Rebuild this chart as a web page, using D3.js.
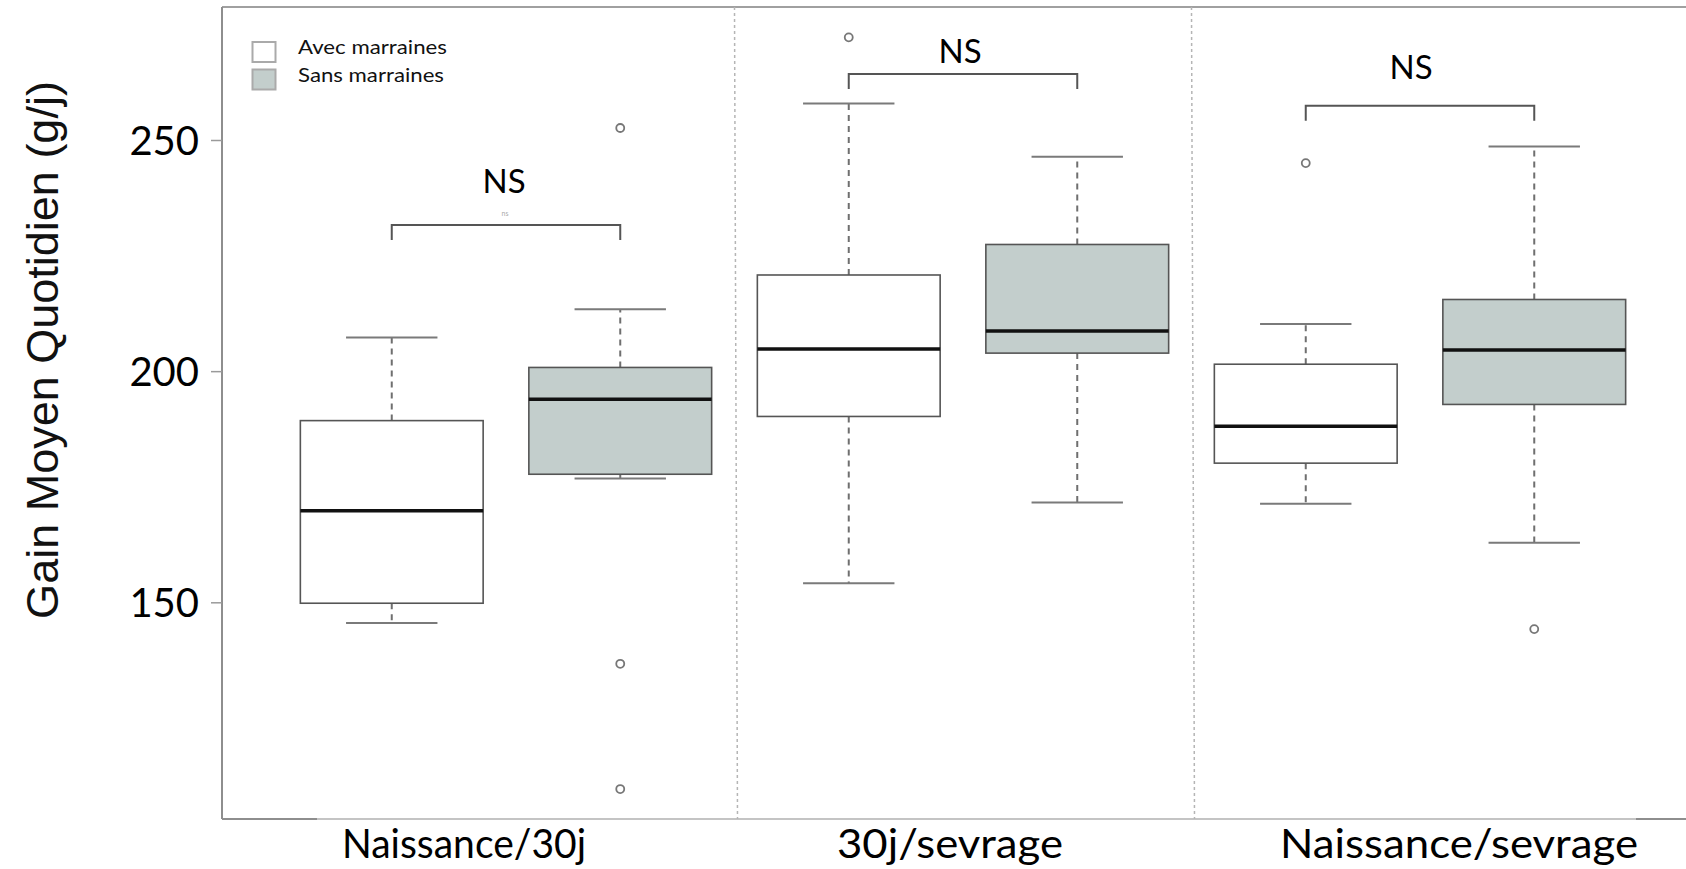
<!DOCTYPE html>
<html>
<head>
<meta charset="utf-8">
<script src="https://cdn.jsdelivr.net/npm/d3@7"></script>
<style>
  html, body { margin: 0; padding: 0; background: #fff; }
  svg { display: block; }
</style>
</head>
<body>
<svg id="chart" width="1686" height="869"></svg>
<script>
// ---------------- data ----------------
const categories = ["Naissance/30j", "30j/sevrage", "Naissance/sevrage"];
const seriesNames = ["Avec marraines", "Sans marraines"];
// [lower whisker, Q1, median, Q3, upper whisker] per category
const avecStats = [
  [145.5, 149.8, 169.8, 189.3, 207.3],
  [154.1, 190.2, 204.8, 220.8, 257.9],
  [171.3, 180.1, 188.1, 201.5, 210.2]
];
const sansStats = [
  [176.8, 177.7, 193.9, 200.8, 213.4],
  [171.6, 203.9, 208.7, 227.4, 246.4],
  [162.9, 192.8, 204.6, 215.5, 248.6]
];
const avecOutliers = [[], [272.2], [245.0]];
const sansOutliers = [[252.6, 136.7, 109.6], [], [144.2]];
const bracketValues = [231.6, 264.3, 257.4];
const signifLabels = ["NS", "NS", "NS"];
const signifValues = [238.5, 266.6, 263.2];
const yTicks = [150, 200, 250];
const yTitle = "Gain Moyen Quotidien (g/j)";

// ---------------- layout ----------------
const plotLeft = 222, plotTop = 7, plotBottom = 819, plotRight = 1686;
const svg = d3.select("#chart");

const fillColors = ["#ffffff", "#c3cecc"];
const labelShift = [-42, -13, 39];
const labelWidths = [244, 226, 358];
const legendWidths = [149, 146];
const signifShift = [-2, -3, -9];

const x = d3.scaleBand().domain(categories).range([277.5, 1648.5]).padding(0);
const xs = d3.scaleBand().domain(seriesNames).range([0, x.bandwidth()]).padding(0);
const y = d3.scaleLinear().domain([150, 250]).range([602.3, 140]);

const boxW = xs.bandwidth() * 0.8;
const capW = xs.bandwidth() * 0.4;

// frame
const frame = svg.append("g");
frame.append("line").attr("x1", plotLeft).attr("x2", plotRight).attr("y1", plotTop).attr("y2", plotTop)
  .attr("stroke", "#a0a0a0").attr("stroke-width", 2);
frame.append("line").attr("x1", plotLeft).attr("x2", plotRight).attr("y1", plotBottom).attr("y2", plotBottom)
  .attr("stroke", "#c4c4c4").attr("stroke-width", 2);
frame.append("line").attr("x1", plotLeft).attr("x2", 317).attr("y1", plotBottom).attr("y2", plotBottom)
  .attr("stroke", "#8e8e8e").attr("stroke-width", 2);
frame.append("line").attr("x1", 1636).attr("x2", plotRight).attr("y1", plotBottom).attr("y2", plotBottom)
  .attr("stroke", "#8e8e8e").attr("stroke-width", 2);
frame.append("line").attr("x1", plotLeft).attr("x2", plotLeft).attr("y1", plotTop).attr("y2", plotBottom)
  .attr("stroke", "#8e8e8e").attr("stroke-width", 2);

// dividers between categories
svg.append("g").selectAll("line").data(categories.slice(1)).join("line")
  .attr("x1", d => x(d)).attr("x2", d => x(d) + 3)
  .attr("y1", plotTop).attr("y2", plotBottom)
  .attr("stroke", "#b5b5b5").attr("stroke-width", 1.5).attr("stroke-dasharray", "3,3");

// y axis
const yAxis = svg.append("g").attr("transform", `translate(${plotLeft},0)`)
  .call(d3.axisLeft(y).tickValues(yTicks).tickSize(11).tickPadding(12));
yAxis.select(".domain").remove();
yAxis.selectAll(".tick line").attr("stroke", "#9a9a9a").attr("stroke-width", 1.5);
yAxis.selectAll(".tick text").attr("font-family", "Lato, sans-serif").attr("font-size", 40)
  .attr("fill", "#000").attr("dy", "0.35em");

// y title
svg.append("text").attr("transform", "translate(58,350) rotate(-90)")
  .attr("text-anchor", "middle").attr("font-family", "'Liberation Sans', Arial, sans-serif")
  .attr("font-size", 45).attr("fill", "#111").text(yTitle);

// category labels
svg.append("g").selectAll("text").data(categories).join("text")
  .attr("x", (d, i) => x(d) + x.bandwidth() / 2 + labelShift[i]).attr("y", 857.7)
  .attr("text-anchor", "middle").attr("font-family", "Lato, sans-serif").attr("font-size", 40)
  .attr("textLength", (d, i) => labelWidths[i]).attr("lengthAdjust", "spacingAndGlyphs")
  .attr("fill", "#000").text(d => d);

// boxes
const allStats = [avecStats, sansStats];
const allOutliers = [avecOutliers, sansOutliers];
seriesNames.forEach((s, si) => {
  categories.forEach((c, ci) => {
    const st = allStats[si][ci];
    const cx = x(c) + xs(s) + xs.bandwidth() / 2;
    const g = svg.append("g");
    // whiskers (dashed)
    g.append("line").attr("x1", cx).attr("x2", cx).attr("y1", y(st[3])).attr("y2", y(st[4]))
      .attr("stroke", "#6f6f6f").attr("stroke-width", 2).attr("stroke-dasharray", "6,5");
    g.append("line").attr("x1", cx).attr("x2", cx).attr("y1", y(st[1])).attr("y2", y(st[0]))
      .attr("stroke", "#6f6f6f").attr("stroke-width", 2).attr("stroke-dasharray", "6,5");
    // caps
    [st[0], st[4]].forEach(v => {
      g.append("line").attr("x1", cx - capW / 2).attr("x2", cx + capW / 2).attr("y1", y(v)).attr("y2", y(v))
        .attr("stroke", "#7a7a7a").attr("stroke-width", 2);
    });
    // box
    g.append("rect").attr("x", cx - boxW / 2).attr("width", boxW)
      .attr("y", y(st[3])).attr("height", y(st[1]) - y(st[3]))
      .attr("fill", fillColors[si]).attr("stroke", "#555").attr("stroke-width", 1.6);
    // median
    g.append("line").attr("x1", cx - boxW / 2).attr("x2", cx + boxW / 2).attr("y1", y(st[2])).attr("y2", y(st[2]))
      .attr("stroke", "#111").attr("stroke-width", 3.5);
    // outliers
    g.selectAll("circle").data(allOutliers[si][ci]).join("circle")
      .attr("cx", cx).attr("cy", d => y(d)).attr("r", 4)
      .attr("fill", "none").attr("stroke", "#777").attr("stroke-width", 1.8);
  });
});

// significance brackets
categories.forEach((c, ci) => {
  const x1 = x(c) + xs(seriesNames[0]) + xs.bandwidth() / 2;
  const x2 = x(c) + xs(seriesNames[1]) + xs.bandwidth() / 2;
  const yb = y(bracketValues[ci]);
  svg.append("path")
    .attr("d", `M${x1},${yb + 15}V${yb}H${x2}V${yb + 15}`)
    .attr("fill", "none").attr("stroke", "#555").attr("stroke-width", 2);
  svg.append("text").attr("x", (x1 + x2) / 2 + signifShift[ci]).attr("y", y(signifValues[ci]))
    .attr("text-anchor", "middle").attr("font-family", "Lato, sans-serif").attr("font-size", 33)
    .attr("fill", "#000").text(signifLabels[ci]);
});
// faint artifact under first NS
svg.append("text").attr("x", 505).attr("y", y(bracketValues[0]) - 9)
  .attr("text-anchor", "middle").attr("font-family", "Lato, sans-serif").attr("font-size", 7)
  .attr("fill", "#aaa").text("ns");

// legend
const legend = svg.append("g");
seriesNames.forEach((s, i) => {
  legend.append("rect").attr("x", 252.5).attr("y", 42 + i * 27.5).attr("width", 23).attr("height", 20)
    .attr("fill", fillColors[i]).attr("stroke", "#aaa").attr("stroke-width", 2);
  legend.append("text").attr("x", 298).attr("y", 54.3 + i * 28)
    .attr("font-family", "Lato, sans-serif").attr("font-size", 19)
    .attr("textLength", legendWidths[i]).attr("lengthAdjust", "spacingAndGlyphs")
    .attr("fill", "#111").text(s);
});
</script>
</body>
</html>
